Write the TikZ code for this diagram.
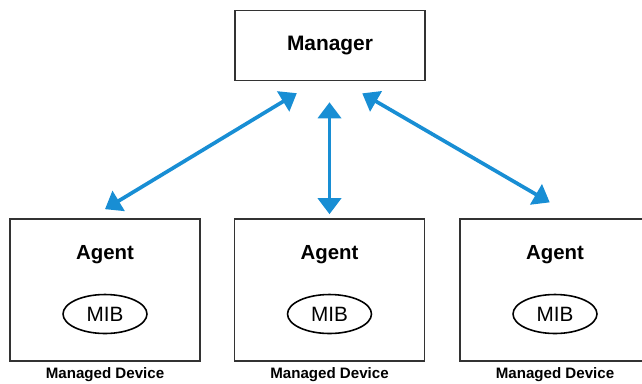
\documentclass[tikz,border=0pt]{standalone}
\usepackage{fontspec}
\setmainfont{Liberation Sans}
\usetikzlibrary{positioning,shapes.geometric,arrows.meta}

\definecolor{linkblue}{RGB}{24,142,212}

\begin{document}
\begin{tikzpicture}[x=0.02cm,y=-0.02cm,
        box/.style={draw=black!80,line width=0.9pt,minimum width=3.8cm,minimum height=2.84cm},
        link/.style={draw=linkblue,line width=2.1pt,{Triangle[length=0.32cm,width=0.46cm]}-{Triangle[length=0.32cm,width=0.46cm]}}]
        \useasboundingbox (0,0) rectangle (642,383);
        \clip (0,0) rectangle (642,383);

        % Manager oben
        \node[draw=black!80,line width=0.9pt,minimum width=3.8cm,minimum height=1.4cm,
              font=\fontsize{11.9}{14}\selectfont\bfseries] (mgr) at (330,45.5) {Manager};

        % drei Agenten (der rechte ragt ueber den Rand)
        \node[box] (ag1) at (105,290) {};
        \node[box] (ag2) at (329.5,290) {};
        \node[box,minimum width=4.4cm] (ag3) at (570,290) {};

        \foreach \a/\x in {ag1/105,ag2/329.5,ag3/555} {
            \node[font=\fontsize{11.6}{14}\selectfont\bfseries] (\a txt) at (\x,255) {Agent};
            \node[draw,ellipse,line width=0.9pt,minimum width=1.68cm,minimum height=0.78cm,inner sep=0pt,
                  font=\fontsize{11.8}{14}\selectfont] (\a mib) at (\x,314) {MIB};
            \node[inner sep=0pt,font=\fontsize{8.6}{10}\selectfont\bfseries] (\a lbl) at (\x,375) {Managed Device};
        }

        % Pfeile
        \draw[link,shorten <=0.46cm,shorten >=0.35cm] ([xshift=-0.27cm]mgr.south) -- ([xshift=-0.3cm]ag1.north);
        \draw[link,shorten <=0.42cm,shorten >=0.08cm] (ag2.north |- mgr.south) -- (ag2.north);
        \draw[link,shorten <=0.48cm,shorten >=0.63cm] ([xshift=0.23cm]mgr.south) -- ([xshift=0.44cm]ag3.north -| 555,0);
    \end{tikzpicture}
\end{document}
